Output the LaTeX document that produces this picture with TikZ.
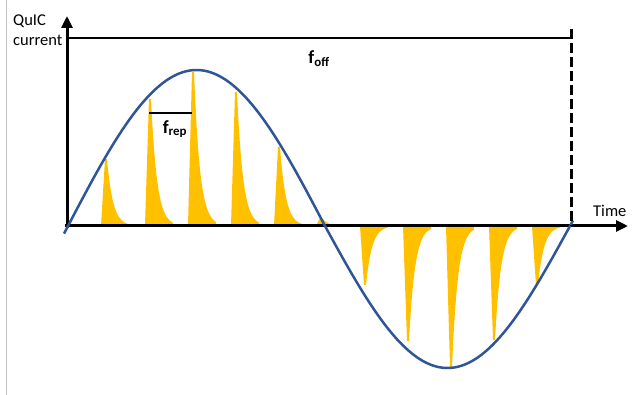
\documentclass[tikz,border=0pt]{standalone}
\usepackage{fontspec}
\setmainfont{Carlito}
\usetikzlibrary{arrows.meta}
\definecolor{spikegold}{HTML}{FFC000}
\definecolor{sineblue}{HTML}{2F5597}
\begin{document}
\begin{tikzpicture}[x=1pt,y=-1pt,
  axisline/.style={line width=3pt, -{Triangle[length=12pt,width=11pt]}},
  sinecurve/.style={sineblue, line width=2.5pt},
  spikefill/.style={spikegold},
  label/.style={inner sep=0pt, font=\fontsize{16.5}{19.5}\selectfont},
  flabel/.style={inner sep=0pt, font=\bfseries\fontsize{18.5}{21}\selectfont}]
\useasboundingbox (0,0) rectangle (637,395);
\draw[black!25, line width=1pt] (6,0) -- (6,395);
% coordinates
\coordinate (O) at (67,226);
\coordinate (Obot) at (67,228);
\coordinate (Oleft) at (65,226);
\coordinate (Ytop) at (67,16);
\coordinate (Xend) at (628,226);
\coordinate (TopL) at (66,38);
\coordinate (TopR) at (571,38);
\coordinate (DashTop) at (571,29);
\coordinate (DashBot) at (571,226);
\coordinate (RepL) at (149,113);
\coordinate (RepR) at (192,113);
% spikes
\foreach \xa/\ty in {106/159,150/99,193/72,236/92,279/147,321/218,365/285,408/341,451/367,494/340,537/285}{
  \fill[spikefill] (\xa-5,226) -- (\xa-1,\ty) -- (\xa+1,\ty)
    -- plot[domain=0:22,samples=40] ({\xa+1+\x},{226+(\ty-226)*exp(-\x/6)})
    -- (\xa+23,226) -- cycle;
}
% axes
\draw[axisline] (Oleft) -- (Xend);
\draw[axisline] (Obot) -- (Ytop);
% sine
\draw[sinecurve] plot[domain=64:325, samples=90] (\x,{226-156*sin((\x-68)/257*180)})
  -- plot[domain=325:573, samples=90] (\x,{226+142*sin((\x-325)/245*180)});
% f_off
\draw[line width=2.5pt] (TopL) -- (TopR);
\draw[line width=3pt, dash pattern=on 10pt off 4pt] (DashTop) -- (DashBot);
\node[flabel] (foff) at (319,59) {f\textsubscript{off}};
% f_rep
\draw[line width=2pt] (RepL) -- (RepR);
\node[flabel] (frep) at (175,129) {f\textsubscript{rep}};
% labels
\node[label, anchor=north west, align=left] (ylab) at (13,15) {QuIC\\current};
\node[label, anchor=base west] (xlab) at (593,217) {Time};
\end{tikzpicture}
\end{document}
